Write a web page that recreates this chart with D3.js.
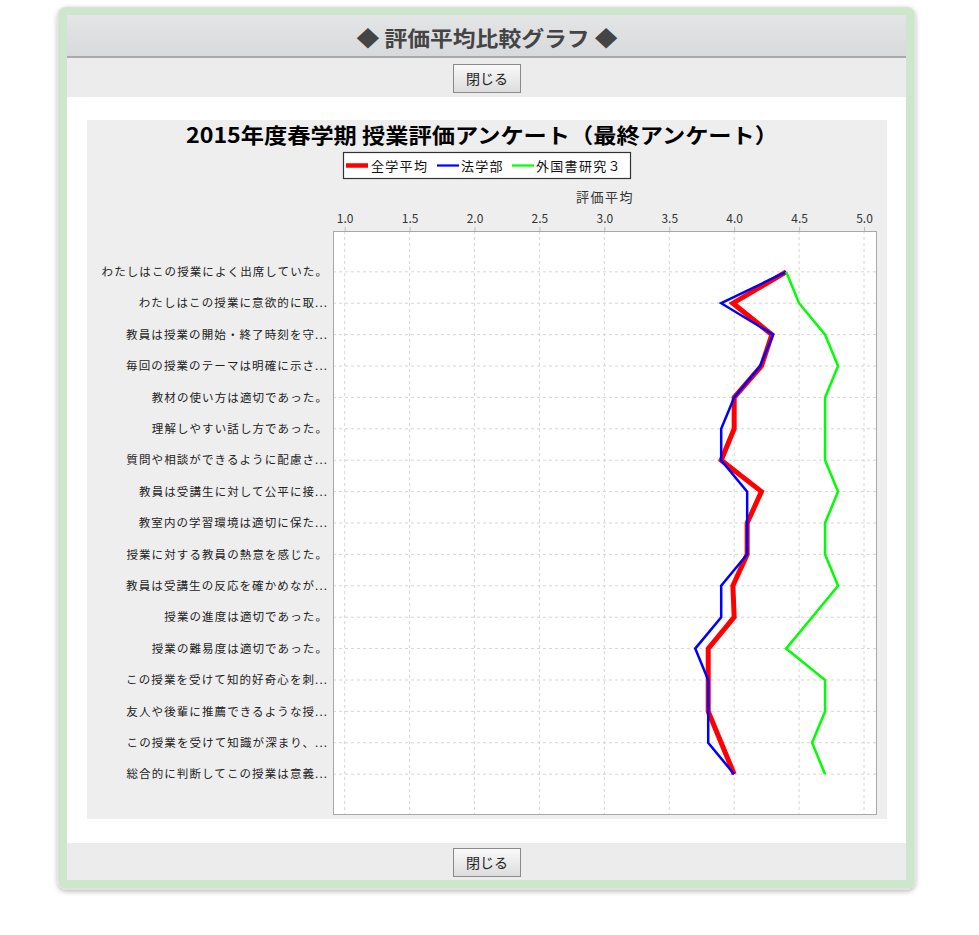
<!DOCTYPE html>
<html><head><meta charset="utf-8">
<script src="https://cdn.jsdelivr.net/npm/d3@7"></script>
<style>
html,body{margin:0;padding:0;background:#fff;}
svg{display:block;}
text{font-family:"Noto Sans CJK JP","Noto Sans",sans-serif;}
</style></head>
<body>
<script>
// ---- data ----
const categories = [
  "わたしはこの授業によく出席していた。",
  "わたしはこの授業に意欲的に取...",
  "教員は授業の開始・終了時刻を守...",
  "毎回の授業のテーマは明確に示さ...",
  "教材の使い方は適切であった。",
  "理解しやすい話し方であった。",
  "質問や相談ができるように配慮さ...",
  "教員は受講生に対して公平に接...",
  "教室内の学習環境は適切に保た...",
  "授業に対する教員の熱意を感じた。",
  "教員は受講生の反応を確かめなが...",
  "授業の進度は適切であった。",
  "授業の難易度は適切であった。",
  "この授業を受けて知的好奇心を刺...",
  "友人や後輩に推薦できるような授...",
  "この授業を受けて知識が深まり、...",
  "総合的に判断してこの授業は意義..."
];
const seriesNames = ["全学平均", "法学部", "外国書研究３"];
const zengakuValues = [4.40, 3.99, 4.29, 4.21, 4.00, 4.00, 3.90, 4.21, 4.10, 4.10, 3.99, 4.00, 3.80, 3.80, 3.80, 3.90, 4.00];
const hougakubuValues = [4.40, 3.90, 4.30, 4.20, 4.00, 3.90, 3.90, 4.10, 4.10, 4.10, 3.90, 3.90, 3.70, 3.80, 3.80, 3.80, 4.00];
const gaikokushoValues = [4.40, 4.50, 4.70, 4.80, 4.70, 4.70, 4.70, 4.80, 4.70, 4.70, 4.80, 4.60, 4.40, 4.70, 4.70, 4.60, 4.70];
const xTicks = [1.0, 1.5, 2.0, 2.5, 3.0, 3.5, 4.0, 4.5, 5.0];
const pageTitle = "◆ 評価平均比較グラフ ◆";
const chartTitle = "2015年度春学期 授業評価アンケート（最終アンケート）";
const axisTitle = "評価平均";
const buttonLabel = "閉じる";

const series = [
  {name: seriesNames[0], values: zengakuValues, color: "#ff0000", width: 5},
  {name: seriesNames[1], values: hougakubuValues, color: "#0000ff", width: 2.5},
  {name: seriesNames[2], values: gaikokushoValues, color: "#00ff00", width: 2.5}
];

const W = 979, H = 935;
const svg = d3.select("body").append("svg").attr("width", W).attr("height", H);
const defs = svg.append("defs");
const hg = defs.append("linearGradient").attr("id","hdr").attr("x1",0).attr("y1",0).attr("x2",0).attr("y2",1);
hg.append("stop").attr("offset","0%").attr("stop-color","#e4e5e7");
hg.append("stop").attr("offset","100%").attr("stop-color","#d8d9db");
const bg = defs.append("linearGradient").attr("id","btn").attr("x1",0).attr("y1",0).attr("x2",0).attr("y2",1);
bg.append("stop").attr("offset","0%").attr("stop-color","#fafafa");
bg.append("stop").attr("offset","100%").attr("stop-color","#dcdcdc");
const f = defs.append("filter").attr("id","sh").attr("x","-5%").attr("y","-5%").attr("width","110%").attr("height","110%");
f.append("feDropShadow").attr("dx",0).attr("dy",2).attr("stdDeviation",2.5).attr("flood-color","#000").attr("flood-opacity",0.28);

// panel
svg.append("rect").attr("x",58).attr("y",7).attr("width",857).attr("height",882).attr("rx",8)
  .attr("fill","#cde7cd").attr("stroke","#e2e2e2").attr("stroke-width",1).attr("filter","url(#sh)");
svg.append("rect").attr("x",67).attr("y",15).attr("width",839).attr("height",42).attr("fill","url(#hdr)");
svg.append("rect").attr("x",67).attr("y",56).attr("width",839).attr("height",2).attr("fill","#aaaaaa");
svg.append("rect").attr("x",67).attr("y",58).attr("width",839).attr("height",39).attr("fill","#ececec");
svg.append("rect").attr("x",67).attr("y",97).attr("width",839).attr("height",746).attr("fill","#ffffff");
svg.append("rect").attr("x",67).attr("y",843).attr("width",839).attr("height",37).attr("fill","#ececec");

svg.append("text").attr("x",487).attr("y",46).attr("text-anchor","middle")
  .attr("font-size",21).attr("font-weight","bold").attr("fill","#444")
  .attr("textLength",261).attr("lengthAdjust","spacingAndGlyphs").text(pageTitle);

function button(y){
  svg.append("rect").attr("x",453.5).attr("y",y+0.5).attr("width",67).attr("height",28)
    .attr("fill","url(#btn)").attr("stroke","#8a8a8a");
  svg.append("text").attr("x",487).attr("y",y+19.5).attr("text-anchor","middle")
    .attr("font-size",14).attr("fill","#222").text(buttonLabel);
}
button(64); button(848);

// chart background
svg.append("rect").attr("x",87).attr("y",120).attr("width",800).attr("height",699).attr("fill","#eeeeee");

svg.append("text").attr("x",482).attr("y",143).attr("text-anchor","middle")
  .attr("font-size",21).attr("font-weight","bold").attr("fill","#000")
  .attr("textLength",592).attr("lengthAdjust","spacingAndGlyphs").text(chartTitle);

// plot
const P = {l:333, t:231, r:877, b:815};
const x = d3.scaleLinear().domain([0.91, 5.1]).range([P.l, P.r]);
const y = d3.scalePoint().domain(categories).range([P.t, P.b]).padding(1.3);

svg.append("rect").attr("x",P.l).attr("y",P.t).attr("width",P.r-P.l).attr("height",P.b-P.t).attr("fill","#fff");

// grid
const g = svg.append("g");
g.selectAll("line.vg").data(xTicks).join("line").attr("class","vg")
  .attr("x1",d=>x(d)).attr("x2",d=>x(d)).attr("y1",P.t).attr("y2",P.b)
  .attr("stroke","#d6d6d6").attr("stroke-dasharray","3,3");
g.selectAll("line.hg").data(categories).join("line").attr("class","hg")
  .attr("x1",P.l).attr("x2",P.r).attr("y1",d=>y(d)).attr("y2",d=>y(d))
  .attr("stroke","#d6d6d6").attr("stroke-dasharray","3,3");

// x axis on top
const xAxis = d3.axisTop(x).tickValues(xTicks).tickFormat(d3.format(".1f")).tickSize(4).tickPadding(4);
const xa = svg.append("g").attr("transform",`translate(0,${P.t})`).call(xAxis);
xa.select(".domain").remove();
xa.selectAll(".tick line").attr("stroke","#bbbbbb");
xa.selectAll(".tick text").attr("font-family","'Liberation Sans',Arial,sans-serif").attr("font-size",12).attr("fill","#333");

svg.append("text").attr("x",(P.l+P.r)/2).attr("y",202).attr("text-anchor","middle")
  .attr("font-size",13).attr("letter-spacing","1.5px").attr("fill","#333").text(axisTitle);

// y axis labels
const ya = d3.axisLeft(y).tickSize(0).tickPadding(5);
const yg = svg.append("g").attr("transform",`translate(${P.l},0)`).call(ya);
yg.select(".domain").remove();
yg.selectAll(".tick text").attr("font-family","'Noto Sans CJK JP',sans-serif").attr("font-size",11.5)
  .attr("letter-spacing","1.1px").attr("fill","#222");

// lines
const line = d3.line().x(d=>x(d.v)).y(d=>y(d.c));
svg.append("g").selectAll("path").data(series).join("path")
  .attr("d", s => line(s.values.map((v,i)=>({v, c: categories[i]}))))
  .attr("fill","none").attr("stroke",s=>s.color).attr("stroke-width",s=>s.width)
  .attr("stroke-linejoin","miter");

// frame
svg.append("rect").attr("x",P.l+0.5).attr("y",P.t+0.5).attr("width",P.r-P.l-1).attr("height",P.b-P.t-1)
  .attr("fill","none").attr("stroke","#a8a8a8");

// legend
const lg = svg.append("g");
lg.append("rect").attr("x",343.5).attr("y",152.5).attr("width",287).attr("height",26)
  .attr("fill","#fff").attr("stroke","#333").attr("stroke-width",1.2);
const legendItems = [
  {sx:346, tx:371},
  {sx:437, tx:461},
  {sx:512, tx:536}
];
series.forEach((s,i)=>{
  const it = legendItems[i];
  lg.append("line").attr("x1",it.sx).attr("x2",it.sx+22).attr("y1",165.5).attr("y2",165.5)
    .attr("stroke",s.color).attr("stroke-width", i===0?4.5:2.2);
  lg.append("text").attr("x",it.tx).attr("y",170.5).attr("font-size",13)
    .attr("letter-spacing","1.3px").attr("fill","#111").text(s.name);
});
</script>
</body></html>
